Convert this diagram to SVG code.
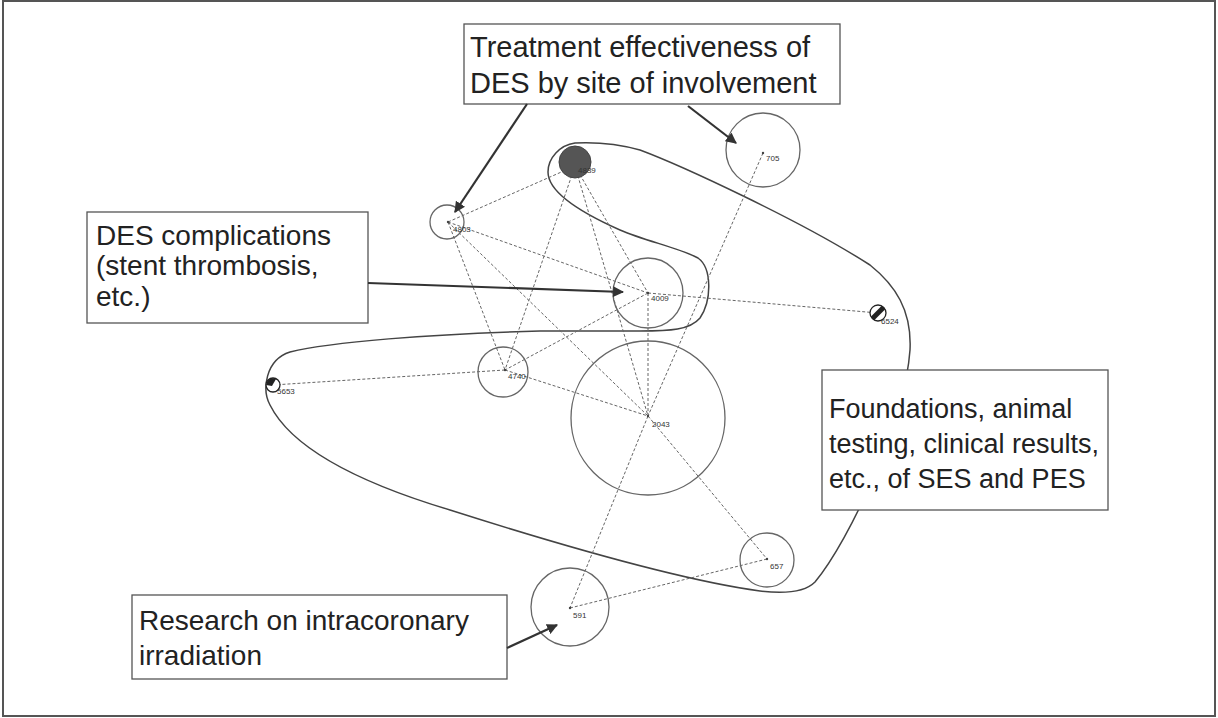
<svg xmlns="http://www.w3.org/2000/svg" width="1218" height="718" viewBox="0 0 1218 718">
  <style>
    .frame { fill: none; stroke: #555; stroke-width: 2; }
    .box { fill: #fff; stroke: #555; stroke-width: 1.3; }
    .btxt { font-family: "Liberation Sans", Arial, sans-serif; font-size: 28px; fill: #222; }
    .ring { fill: none; stroke: #666; stroke-width: 1.3; }
    .dot { fill: #444; }
    .nlab { font-family: "Liberation Sans", Arial, sans-serif; font-size: 8px; fill: #333; }
    .edge { fill: none; stroke: #666; stroke-width: 1; stroke-dasharray: 3 2; }
    .hull { fill: none; stroke: #444; stroke-width: 1.5; }
    .arrow { fill: none; stroke: #333; stroke-width: 2.2; marker-end: url(#head); }
  </style>
  <defs>
    <marker id="head" viewBox="0 0 10 10" refX="9" refY="5" markerWidth="5" markerHeight="5" orient="auto" markerUnits="strokeWidth">
      <path d="M0,0 L10,5 L0,10 z" fill="#333"/>
    </marker>
    <clipPath id="c6524"><circle cx="878" cy="313" r="8"/></clipPath>
    <clipPath id="c5653"><circle cx="273" cy="385" r="7"/></clipPath>
  </defs>

  <rect width="1218" height="718" fill="#fff"/>
  <rect class="frame" x="3" y="1" width="1212" height="715"/>

  <!-- cluster outline -->
  <path id="cluster-hull" class="hull" d="M575,143 C560,145 548,158 548,172 C548,190 575,210 620,230 C645,241 680,248 698,258 C712,268 712,300 700,318 C690,330 670,331 640,331 L540,331 C430,334 330,342 290,352 C265,360 262,390 270,405 C290,445 350,480 450,510 C560,545 680,580 760,591 C785,594 805,592 815,582 C850,540 905,420 910,350 C912,310 895,285 870,265 C800,220 680,165 640,150 C615,143 595,142 575,143 Z"/>

  <!-- co-citation links -->
  <g id="connectors">
    <line class="edge" x1="448" y1="222" x2="575" y2="166"/>
    <line class="edge" x1="448" y1="222" x2="648" y2="293"/>
    <line class="edge" x1="448" y1="222" x2="505" y2="370"/>
    <line class="edge" x1="448" y1="222" x2="648" y2="416"/>
    <line class="edge" x1="575" y1="166" x2="505" y2="370"/>
    <line class="edge" x1="575" y1="166" x2="648" y2="293"/>
    <line class="edge" x1="575" y1="166" x2="648" y2="416"/>
    <line class="edge" x1="648" y1="293" x2="878" y2="313"/>
    <line class="edge" x1="648" y1="293" x2="505" y2="370"/>
    <line class="edge" x1="648" y1="293" x2="648" y2="416"/>
    <line class="edge" x1="505" y1="370" x2="273" y2="385"/>
    <line class="edge" x1="505" y1="370" x2="648" y2="416"/>
    <line class="edge" x1="763" y1="153" x2="648" y2="416"/>
    <line class="edge" x1="648" y1="416" x2="570" y2="608"/>
    <line class="edge" x1="648" y1="416" x2="767" y2="559"/>
    <line class="edge" x1="570" y1="608" x2="767" y2="559"/>
  </g>

  <!-- nodes -->
  <g id="n4803">
    <circle class="ring" cx="447" cy="222" r="17"/>
    <circle class="dot" cx="448" cy="222" r="1.2"/>
    <text class="nlab" x="453" y="232">4803</text>
  </g>
  <g id="n4839">
    <circle cx="575" cy="162" r="16" fill="#555" stroke="#444"/>
    <text class="nlab" x="578" y="173">4839</text>
  </g>
  <g id="n705">
    <circle class="ring" cx="763" cy="150" r="37"/>
    <circle class="dot" cx="763" cy="153" r="1.2"/>
    <text class="nlab" x="766" y="161">705</text>
  </g>
  <g id="n4009">
    <circle class="ring" cx="648" cy="293" r="35"/>
    <circle class="dot" cx="648" cy="293" r="1.2"/>
    <text class="nlab" x="651" y="301">4009</text>
  </g>
  <g id="n6524">
    <circle cx="878" cy="313" r="8" fill="#fff" stroke="#222" stroke-width="1.3"/>
    <line x1="870" y1="321" x2="886" y2="305" stroke="#222" stroke-width="5" clip-path="url(#c6524)"/>
    <text class="nlab" x="881" y="324">6524</text>
  </g>
  <g id="n4740">
    <circle class="ring" cx="503" cy="372" r="25"/>
    <circle class="dot" cx="505" cy="370" r="1.2"/>
    <text class="nlab" x="508" y="379">4740</text>
  </g>
  <g id="n5653">
    <circle cx="273" cy="385" r="7" fill="#fff" stroke="#222" stroke-width="1.3"/>
    <path d="M266,385 A7,7 0 0 1 276,379 L272,386 Z" fill="#222" clip-path="url(#c5653)"/>
    <text class="nlab" x="277" y="394">5653</text>
  </g>
  <g id="n2043">
    <circle class="ring" cx="648" cy="418" r="77"/>
    <circle class="dot" cx="648" cy="416" r="1.2"/>
    <text class="nlab" x="652" y="427">2043</text>
  </g>
  <g id="n657">
    <circle class="ring" cx="767" cy="560" r="27"/>
    <circle class="dot" cx="767" cy="559" r="1.2"/>
    <text class="nlab" x="770" y="569">657</text>
  </g>
  <g id="n591">
    <circle class="ring" cx="570" cy="607" r="39"/>
    <circle class="dot" cx="570" cy="608" r="1.2"/>
    <text class="nlab" x="573" y="618">591</text>
  </g>

  <!-- callout labels -->
  <g id="label-site">
    <rect class="box" x="464" y="24" width="376" height="80"/>
    <text class="btxt" x="470" y="57" style="font-size:29px">Treatment effectiveness of</text>
    <text class="btxt" x="470" y="93" style="font-size:29px">DES by site of involvement</text>
  </g>
  <g id="label-complications">
    <rect class="box" x="87" y="212" width="281" height="111"/>
    <text class="btxt" x="96" y="245">DES complications</text>
    <text class="btxt" x="96" y="275">(stent thrombosis,</text>
    <text class="btxt" x="96" y="306">etc.)</text>
  </g>
  <g id="label-foundations">
    <rect class="box" x="822" y="370" width="286" height="140"/>
    <text class="btxt" x="829" y="418" style="font-size:27px">Foundations, animal</text>
    <text class="btxt" x="829" y="453" style="font-size:27px">testing, clinical results,</text>
    <text class="btxt" x="829" y="488" style="font-size:27px">etc., of SES and PES</text>
  </g>
  <g id="label-irradiation">
    <rect class="box" x="132" y="595" width="375" height="84"/>
    <text class="btxt" x="139" y="630">Research on intracoronary</text>
    <text class="btxt" x="139" y="665">irradiation</text>
  </g>

  <!-- callout pointers -->
  <g id="pointers">
    <line class="arrow" x1="527" y1="104" x2="455" y2="212"/>
    <line class="arrow" x1="688" y1="106" x2="736" y2="143"/>
    <line class="arrow" x1="368" y1="283" x2="623" y2="292"/>
    <line class="arrow" x1="507" y1="648" x2="557" y2="625"/>
  </g>
</svg>
